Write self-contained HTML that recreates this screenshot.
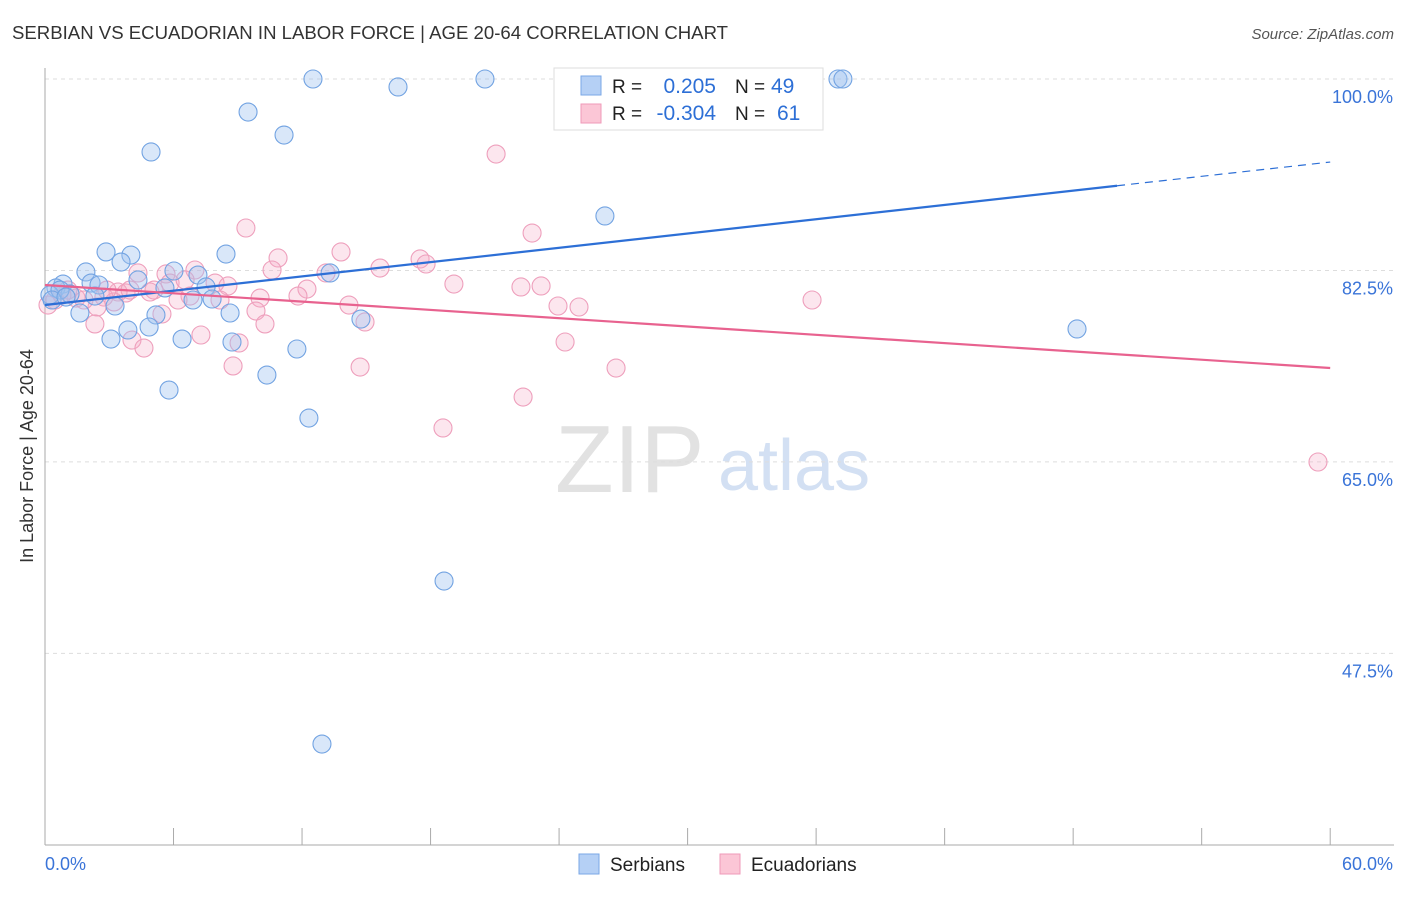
<!DOCTYPE html>
<html><head><meta charset="utf-8"><style>
body{margin:0;background:#fff;font-family:"Liberation Sans",sans-serif;}
svg text{font-family:"Liberation Sans",sans-serif;}
</style></head><body>
<svg id="c" width="1406" height="892">
<text x="12" y="39" font-size="18.6" fill="#333">SERBIAN VS ECUADORIAN IN LABOR FORCE | AGE 20-64 CORRELATION CHART</text>
<text x="1394" y="39" font-size="15" fill="#555" text-anchor="end" font-style="italic">Source: ZipAtlas.com</text>
<text x="33" y="456" font-size="18" fill="#333" text-anchor="middle" transform="rotate(-90 33 456)">In Labor Force | Age 20-64</text>
<text x="555" y="492" font-size="96" fill="#e2e2e2" font-family="Liberation Serif">ZIP</text>
<text x="718" y="490" font-size="72" fill="#d3e0f3">atlas</text>
<g id="grid"></g><g id="axes"></g><g id="pts"></g><g id="lines"></g>
<g>
<rect x="554" y="68" width="269" height="62" fill="#fff" stroke="#ddd"/>
<rect x="581" y="76" width="20" height="19" fill="#b5d0f5" stroke="#7aa7e6"/>
<rect x="581" y="104" width="20" height="19" fill="#fbc6d6" stroke="#ef9ab8"/>
<text x="612" y="93" font-size="19" fill="#222">R =</text><text x="716" y="93" font-size="21" fill="#2d6fd6" text-anchor="end">0.205</text>
<text x="735" y="93" font-size="19" fill="#222">N =</text><text x="771" y="93" font-size="21" fill="#2d6fd6">49</text>
<text x="612" y="120" font-size="19" fill="#222">R =</text><text x="716" y="120" font-size="21" fill="#2d6fd6" text-anchor="end">-0.304</text>
<text x="735" y="120" font-size="19" fill="#222">N =</text><text x="777" y="120" font-size="21" fill="#2d6fd6">61</text>
</g>
<g>
<rect x="579" y="854" width="20" height="20" fill="#b5d0f5" stroke="#7aa7e6"/>
<text x="610" y="871" font-size="19" fill="#222">Serbians</text>
<rect x="720" y="854" width="20" height="20" fill="#fbc6d6" stroke="#ef9ab8"/>
<text x="751" y="871" font-size="19" fill="#222">Ecuadorians</text>
</g>
</svg>
<script>
const serX=[12.51,16.48,20.54,37.02,37.25,9.48,11.16,4.95,26.14,2.85,4.01,8.45,3.55,1.91,6.02,7.14,13.31,0.84,2.15,2.52,4.34,5.60,7.52,0.51,1.17,2.33,6.91,7.80,3.27,1.63,5.18,8.64,14.75,3.87,4.86,3.08,6.40,8.73,11.76,48.18,10.36,5.79,12.32,18.63,12.93,0.23,0.70,0.33,0.98];
const serY=[100,99.27,100,100,100,96.98,94.88,93.33,87.48,84.19,83.91,84.00,83.27,82.36,82.45,82.08,82.27,81.26,81.35,81.17,81.63,80.90,80.99,80.90,80.35,80.16,79.80,79.89,79.25,78.61,78.43,78.61,78.06,77.06,77.33,76.23,76.23,75.96,75.32,77.15,72.94,71.57,69.01,54.11,39.21,80.26,80.71,79.80,80.07];
const ecuX=[21.06,9.38,22.74,13.82,17.51,10.88,17.79,10.60,15.64,13.12,5.65,7.00,4.34,5.84,7.94,8.54,6.54,19.09,22.22,23.16,12.23,11.81,6.77,10.04,5.09,3.78,3.41,2.75,1.45,14.19,23.95,24.93,35.81,9.85,5.46,2.43,3.22,2.33,10.27,14.94,4.06,4.62,7.28,9.06,24.28,8.78,14.71,26.66,22.32,18.58,59.43,0.14,0.47,0.79,1.07,1.82,2.89,6.21,8.17,3.97,4.90];
const ecuY=[93.14,86.38,85.92,84.19,83.55,83.64,83.09,82.54,82.72,82.27,82.18,82.54,82.27,81.35,81.35,81.08,81.63,81.26,80.99,81.08,80.80,80.16,80.16,79.98,80.71,80.44,80.53,80.07,79.98,79.34,79.25,79.16,79.80,78.79,78.52,79.16,79.62,77.61,77.61,77.79,76.14,75.41,76.60,75.87,75.96,73.77,73.67,73.58,70.93,68.10,64.99,79.34,79.80,80.26,80.71,79.80,80.71,79.80,79.80,80.71,80.53];
const serTrend=[79.34,92.41]; const serSolidEnd=50.05;
const ecuTrend=[81.17,73.58];
const yTicks=[100,82.5,65,47.5];
const yTickLabels=["100.0%","82.5%","65.0%","47.5%"];
const xTicks=[0,6,12,18,24,30,36,42,48,54,60];
const NS="http://www.w3.org/2000/svg";
const sx=v=>45+v*21.42, sy=v=>79+(100-v)*10.94;
function mk(p,t,a){const e=document.createElementNS(NS,t);for(const k in a)e.setAttribute(k,a[k]);p.appendChild(e);return e;}
const grid=document.getElementById('grid'),axes=document.getElementById('axes'),pts=document.getElementById('pts'),lines=document.getElementById('lines');
yTicks.forEach((t,i)=>{
 const l=mk(grid,'line',{x1:45,x2:1394,y1:sy(t),y2:sy(t),stroke:'#ddd','stroke-dasharray':'4,4'});
 
 
 const tx=mk(axes,'text',{x:1393,y:sy(t)+24,'font-size':18,fill:'#3a74d8','text-anchor':'end'});tx.textContent=yTickLabels[i];
 
 
});
const ya=mk(axes,'line',{x1:45,x2:45,y1:68,y2:845,stroke:'#aaa'});


const xa=mk(axes,'line',{x1:45,x2:1394,y1:845,y2:845,stroke:'#aaa'});


xTicks.forEach(t=>{const k=mk(axes,'line',{x1:sx(t),x2:sx(t),y1:828,y2:845,stroke:'#aaa'});
 
 });
const x0=mk(axes,'text',{x:45,y:870,'font-size':18,fill:'#3a74d8'});x0.textContent='0.0%';


const x1=mk(axes,'text',{x:1393,y:870,'font-size':18,fill:'#3a74d8','text-anchor':'end'});x1.textContent='60.0%';


ecuX.forEach((x,i)=>{const c=mk(pts,'circle',{cx:sx(x),cy:sy(ecuY[i]),r:9,fill:'rgba(246,172,198,0.3)',stroke:'#ee9fbc','stroke-width':1.1});
 
 });
serX.forEach((x,i)=>{const c=mk(pts,'circle',{cx:sx(x),cy:sy(serY[i]),r:9,fill:'rgba(160,196,240,0.4)',stroke:'#72a3e2','stroke-width':1.1});
 
 });
const at=(tr,x)=>tr[0]+(tr[1]-tr[0])*x/60;
const bl=mk(lines,'line',{x1:sx(0),y1:sy(serTrend[0]),x2:sx(serSolidEnd),y2:sy(at(serTrend,serSolidEnd)),stroke:'#2d6fd6','stroke-width':2.2});


const bd=mk(lines,'line',{x1:sx(serSolidEnd),y1:sy(at(serTrend,serSolidEnd)),x2:sx(60),y2:sy(serTrend[1]),stroke:'#2d6fd6','stroke-width':1.2,'stroke-dasharray':'8,6'});


const pl=mk(lines,'line',{x1:sx(0),y1:sy(ecuTrend[0]),x2:sx(60),y2:sy(ecuTrend[1]),stroke:'#e8628f','stroke-width':2.2});


</script>
</body></html>
